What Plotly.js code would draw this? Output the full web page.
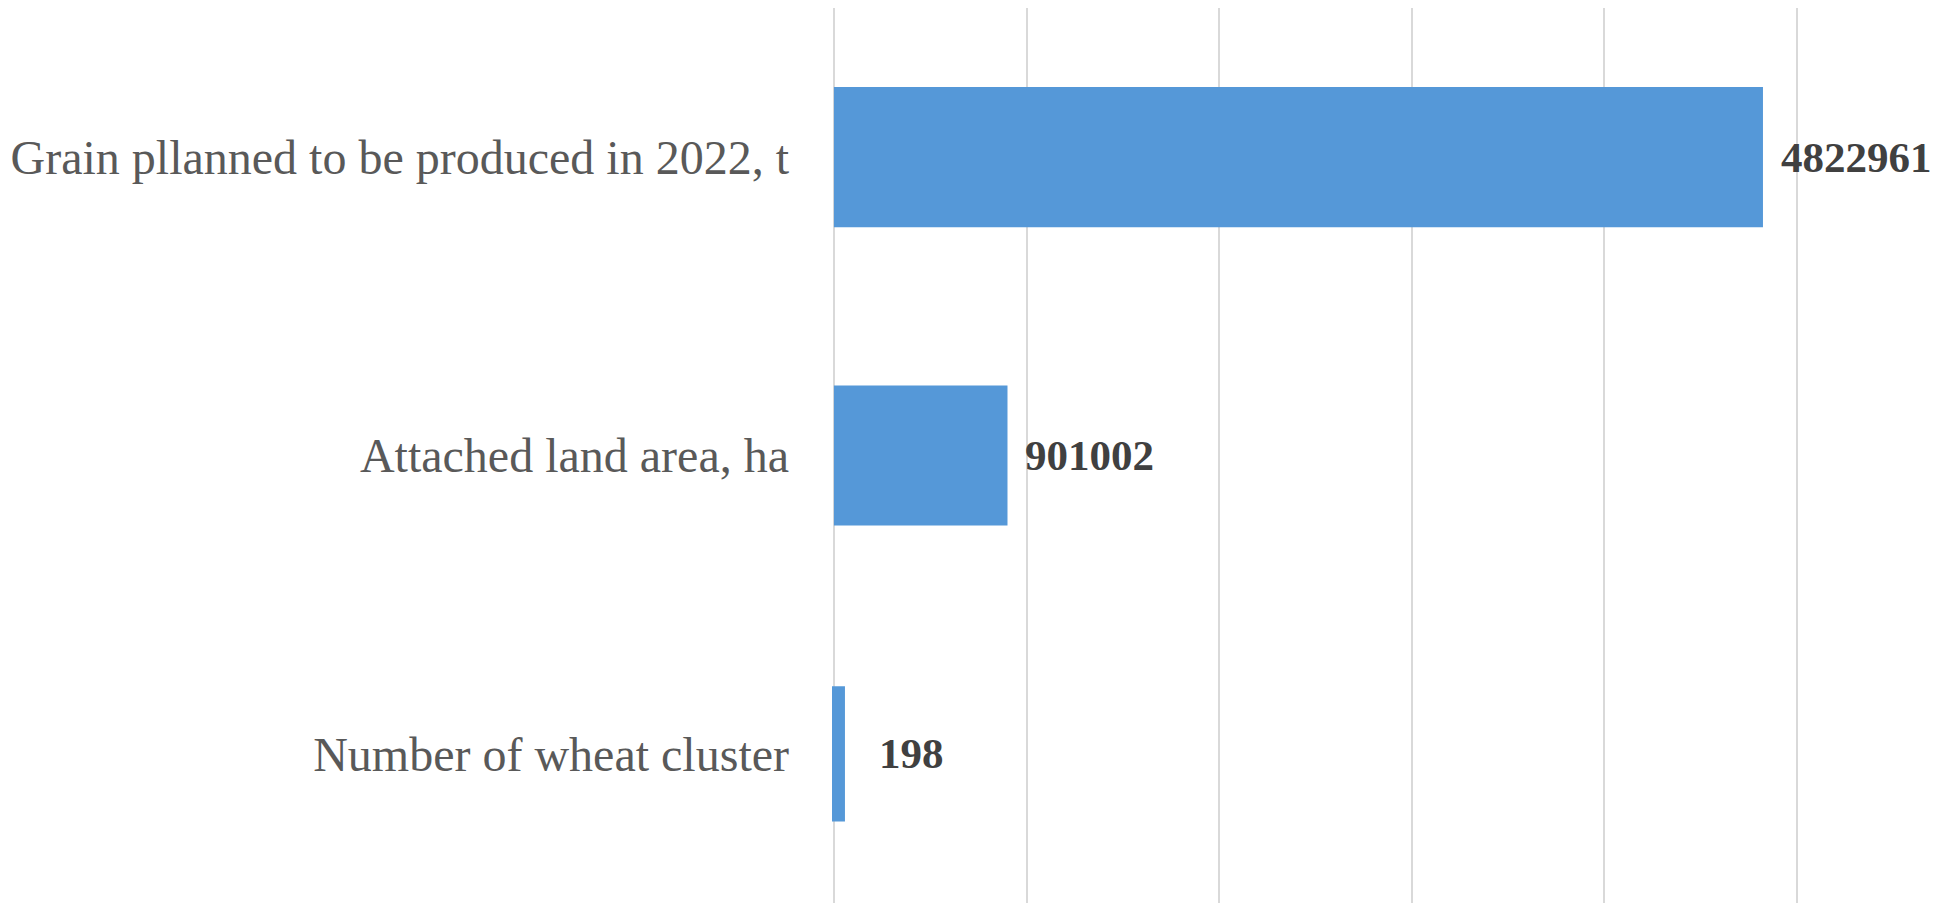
<!DOCTYPE html>
<html>
<head>
<meta charset="utf-8">
<script src="https://cdn.plot.ly/plotly-3.0.1.min.js"></script>
<style>html,body{margin:0;padding:0;background:#fff;}#chart{width:1938px;height:905px;}</style>
</head>
<body>
<div id="chart"></div>
<script>
const categories = ["Number of wheat cluster", "Attached land area, ha", "Grain pllanned to be produced in 2022, t"];
const values = [198, 901002, 4822961];
const labelShift = [43, 16, 16];
const minBarLine = [22, 0, 0];
const barWidths = [0.38, 0.47, 0.47];

const trace = {
  type: "bar",
  orientation: "h",
  x: values,
  y: categories,
  width: barWidths,
  marker: {
    color: "#5598d8",
    line: { color: "#5598d8", width: minBarLine }
  },
  hoverinfo: "x+y"
};

const annotations = values.map((v, i) => ({
  x: v,
  y: categories[i],
  xref: "x",
  yref: "y",
  text: String(v),
  showarrow: false,
  xanchor: "left",
  yanchor: "middle",
  xshift: labelShift[i],
  font: { family: "Liberation Serif, Times New Roman, serif", size: 43, color: "#404040", weight: "bold" }
}));

const layout = {
  width: 1938,
  height: 905,
  margin: { l: 832, r: 139, t: 8, b: 2, pad: 0 },
  paper_bgcolor: "#ffffff",
  plot_bgcolor: "#ffffff",
  showlegend: false,
  xaxis: {
    range: [-10000, 5010000],
    dtick: 1000000,
    tick0: 0,
    showgrid: true,
    gridcolor: "#d9d9d9",
    gridwidth: 2,
    showticklabels: false,
    zeroline: false,
    showline: false,
    ticks: ""
  },
  yaxis: {
    type: "category",
    showgrid: false,
    zeroline: false,
    showline: false,
    ticks: "",
    ticklabelstandoff: 42,
    tickfont: { family: "Liberation Serif, Times New Roman, serif", size: 48, color: "#595959" }
  },
  annotations: annotations
};

Plotly.newPlot("chart", [trace], layout, { displayModeBar: false, staticPlot: true });
</script>
</body>
</html>
